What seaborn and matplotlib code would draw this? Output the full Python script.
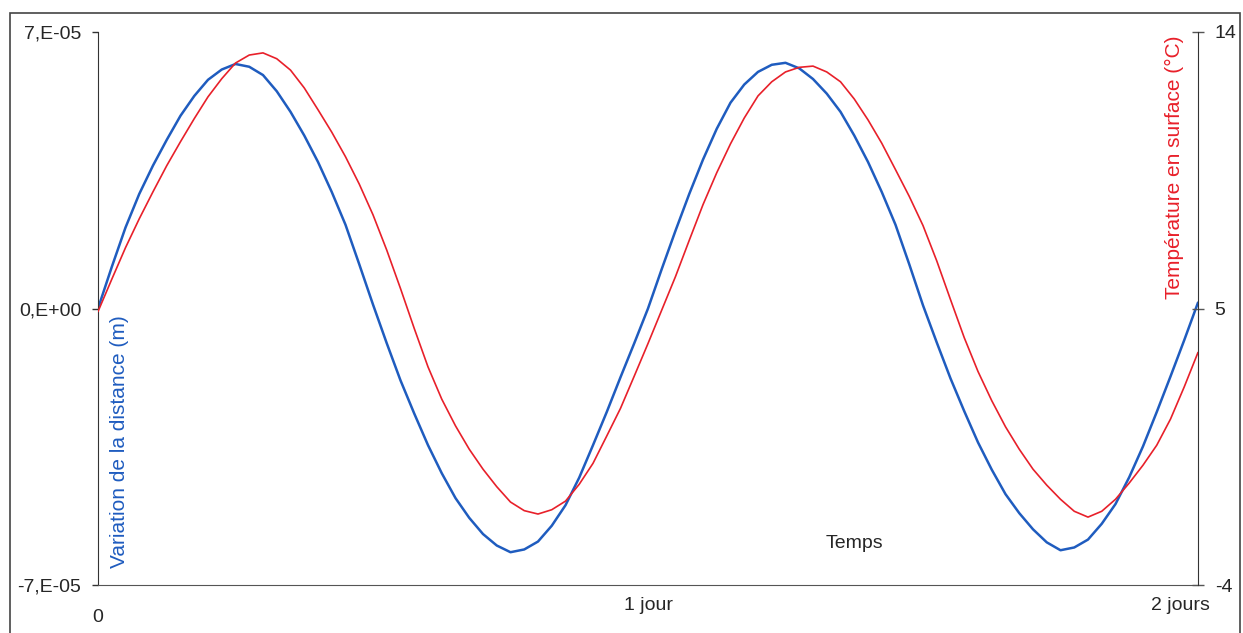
import numpy as np
import pandas as pd
import matplotlib
matplotlib.use("Agg")
import matplotlib.pyplot as plt
import matplotlib.transforms as mtransforms
from matplotlib.patches import Rectangle
import seaborn as sns

# time in days, read every 0.025 day
temps = [round(0.025 * i, 3) for i in range(81)]

# distance variation, in units of 1e-5 m
distance_e5 = [
    0.00, 1.05, 2.05, 2.90, 3.62, 4.27, 4.88, 5.38, 5.79, 6.05,
    6.19, 6.12, 5.91, 5.50, 4.98, 4.38, 3.71, 2.95, 2.12, 1.12,
    0.10, -0.88, -1.82, -2.66, -3.46, -4.17, -4.80, -5.30, -5.71, -6.00,
    -6.17, -6.10, -5.90, -5.50, -4.98, -4.28, -3.46, -2.62, -1.74, -0.88,
    0.00, 1.00, 1.97, 2.90, 3.77, 4.55, 5.21, 5.67, 5.99, 6.17,
    6.22, 6.08, 5.81, 5.44, 4.98, 4.38, 3.71, 2.95, 2.12, 1.12,
    0.08, -0.86, -1.77, -2.60, -3.39, -4.08, -4.70, -5.18, -5.59, -5.92,
    -6.12, -6.05, -5.85, -5.45, -4.95, -4.27, -3.49, -2.62, -1.72, -0.80,
    0.15,
]

# surface temperature (deg C)
temperature = [
    4.90, 5.95, 6.98, 7.92, 8.80, 9.65, 10.43, 11.18, 11.89, 12.48,
    12.99, 13.25, 13.32, 13.13, 12.76, 12.18, 11.47, 10.74, 9.94, 9.05,
    8.05, 6.90, 5.65, 4.35, 3.10, 2.05, 1.18, 0.42, -0.23, -0.80,
    -1.30, -1.58, -1.69, -1.55, -1.27, -0.72, -0.04, 0.85, 1.75, 2.80,
    3.86, 4.95, 6.04, 7.22, 8.38, 9.42, 10.36, 11.20, 11.92, 12.38,
    12.70, 12.85, 12.89, 12.70, 12.38, 11.82, 11.14, 10.38, 9.52, 8.65,
    7.70, 6.55, 5.29, 4.05, 2.95, 2.00, 1.15, 0.42, -0.23, -0.75,
    -1.21, -1.60, -1.79, -1.60, -1.21, -0.68, -0.10, 0.55, 1.40, 2.45,
    3.57,
]

x_ticks = [0, 1, 2]
x_tick_labels = ["0", "1 jour", "2 jours"]
left_ticks = [-7e-5, 0, 7e-5]
left_tick_labels = ["-7,E-05", "0,E+00", "7,E-05"]
right_ticks = [-4, 5, 14]
right_tick_labels = ["-4", "5", "14"]

df = pd.DataFrame({
    "temps": temps,
    "distance": np.array(distance_e5) * 1e-5,
    "temperature": temperature,
})

BLUE = "#1f5cbf"
RED = "#e8202a"

sns.set_style("white")
plt.rcParams["font.family"] = ["Liberation Sans", "DejaVu Sans"]
plt.rcParams["font.size"] = 14

fig = plt.figure(figsize=(12.43, 6.33), dpi=100)
ax = fig.add_axes([98 / 1243, 1 - 585 / 633, 1100 / 1243, 553 / 633])
ax2 = ax.twinx()

sns.lineplot(data=df, x="temps", y="distance", ax=ax, color=BLUE, linewidth=1.8)
sns.lineplot(data=df, x="temps", y="temperature", ax=ax2, color=RED, linewidth=1.2)

ax.set_xlim(0, 2)
ax.set_ylim(-7e-5, 7e-5)
ax2.set_ylim(-4, 14)

ax.set_xticks(x_ticks)
ax.set_xticklabels(x_tick_labels)
ax.set_yticks(left_ticks)
ax.set_yticklabels(left_tick_labels)
ax2.set_yticks(right_ticks)
ax2.set_yticklabels(right_tick_labels)

for a in (ax, ax2):
    for s in a.spines.values():
        s.set_visible(False)
ax.spines["left"].set_visible(True)
ax.spines["bottom"].set_visible(True)
ax2.spines["right"].set_visible(True)
ax.spines["left"].set_color("#333333")
ax.spines["bottom"].set_color("#555555")
ax2.spines["right"].set_color("#333333")

ax.tick_params(axis="y", direction="out", length=4, width=1, pad=8, color="#333333")
ax.tick_params(axis="x", direction="in", length=4, width=1, pad=9, color="#555555")
ax2.tick_params(axis="y", direction="inout", length=8, width=1, pad=8, color="#555555")

# shift a couple of x labels like the original
xl = ax.get_xticklabels()
xl[0].set_transform(xl[0].get_transform() + mtransforms.ScaledTranslation(0, -0.12, fig.dpi_scale_trans))
xl[2].set_transform(xl[2].get_transform() + mtransforms.ScaledTranslation(-0.18, 0, fig.dpi_scale_trans))

ax.set_ylabel("Variation de la distance (m)", color=BLUE, fontsize=15)
ax.yaxis.set_label_coords(0.028, 0.26)
ax2.set_ylabel("Température en surface (°C)", color=RED, fontsize=15)
ax2.yaxis.set_label_coords(0.970, 0.755)
ax.set_xlabel("Temps", fontsize=14)
ax.xaxis.set_label_coords(0.688, 0.09)

# outer chart border
fig.patches.append(Rectangle((10 / 1243, -0.02), 1230 / 1243, 1 - 13 / 633 + 0.02,
                             transform=fig.transFigure, fill=False,
                             edgecolor="#444444", linewidth=1.2))

fig.savefig("out.png", dpi=100)
